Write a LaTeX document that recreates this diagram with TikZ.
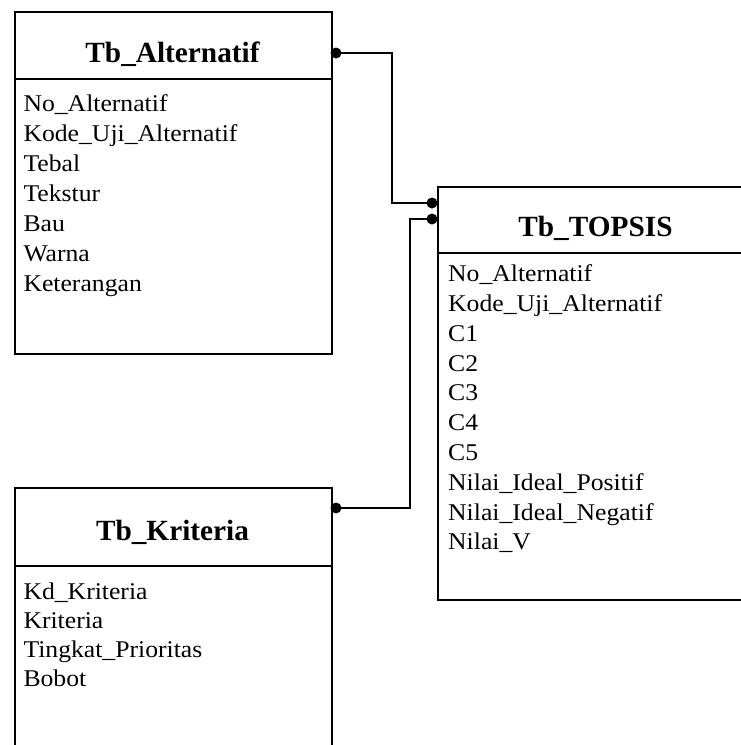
\documentclass[tikz,border=0pt]{standalone}
\usepackage{fontspec}
\setmainfont{Liberation Serif}
\newfontfamily\bodyfont[FakeStretch=1.07]{Liberation Serif}
\begin{document}
\begin{tikzpicture}[x=1pt,y=-1pt,
  tbox/.style={draw=black, line width=1.8pt, rectangle, inner sep=0pt, anchor=north west},
  divider/.style={draw=black, line width=1.8pt},
  ttl/.style={font=\fontsize{29.3}{35}\selectfont\bfseries, anchor=base, inner sep=0pt},
  fld/.style={font=\bodyfont\fontsize{24}{30}\selectfont, anchor=base west, inner sep=0pt},
  conn/.style={draw=black, line width=1.4pt},
  endot/.style={fill=black, circle, inner sep=0pt, minimum size=11pt}]
\useasboundingbox (0,0) rectangle (741,745);
% boxes
\node[tbox, minimum width=317pt, minimum height=342pt] (alt) at (14,11) {};
\node[tbox, minimum width=317pt, minimum height=413pt] (top) at (437,186) {};
\node[tbox, minimum width=317pt, minimum height=320pt] (kri) at (14,487) {};
% dividers
\draw[divider] (alt.west |- 0,79) -- (alt.east |- 0,79);
\draw[divider] (top.west |- 0,253) -- (top.east |- 0,253);
\draw[divider] (kri.west |- 0,566) -- (kri.east |- 0,566);
% titles
\node[ttl] (altT) at (172.5,62.7) {Tb\_Alternatif};
\node[ttl] (topT) at (595.5,236.7) {Tb\_TOPSIS};
\node[ttl] (kriT) at (172.5,540) {Tb\_Kriteria};
% fields
\foreach \t [count=\i from 0] in {No\_Alternatif,Kode\_Uji\_Alternatif,Tebal,Tekstur,Bau,Warna,Keterangan}
  \node[fld] (altf\i) at (23.3,111.7+30*\i) {\t};
\foreach \t [count=\i from 0] in {No\_Alternatif,Kode\_Uji\_Alternatif,C1,C2,C3,C4,C5,Nilai\_Ideal\_Positif,Nilai\_Ideal\_Negatif,Nilai\_V}
  \node[fld] (topf\i) at (448,281.7+29.8*\i) {\t};
\foreach \t [count=\i from 0] in {Kd\_Kriteria,Kriteria,Tingkat\_Prioritas,Bobot}
  \node[fld] (krif\i) at (23.3,599+29*\i) {\t};
% connector end points
\coordinate (p1) at (336,53);
\coordinate (p2) at (432,203);
\coordinate (p3) at (432,219);
\coordinate (p4) at (336,508);
\coordinate (m1) at (392,0);
\coordinate (m2) at (410,0);
\draw[conn] (p1) -| (m1 |- p2) -- (p2);
\draw[conn] (p3) -| (m2 |- p4) -- (p4);
\node[endot] (d1) at (p1) {};
\node[endot] (d2) at (p2) {};
\node[endot] (d3) at (p3) {};
\node[endot] (d4) at (p4) {};
\end{tikzpicture}
\end{document}
